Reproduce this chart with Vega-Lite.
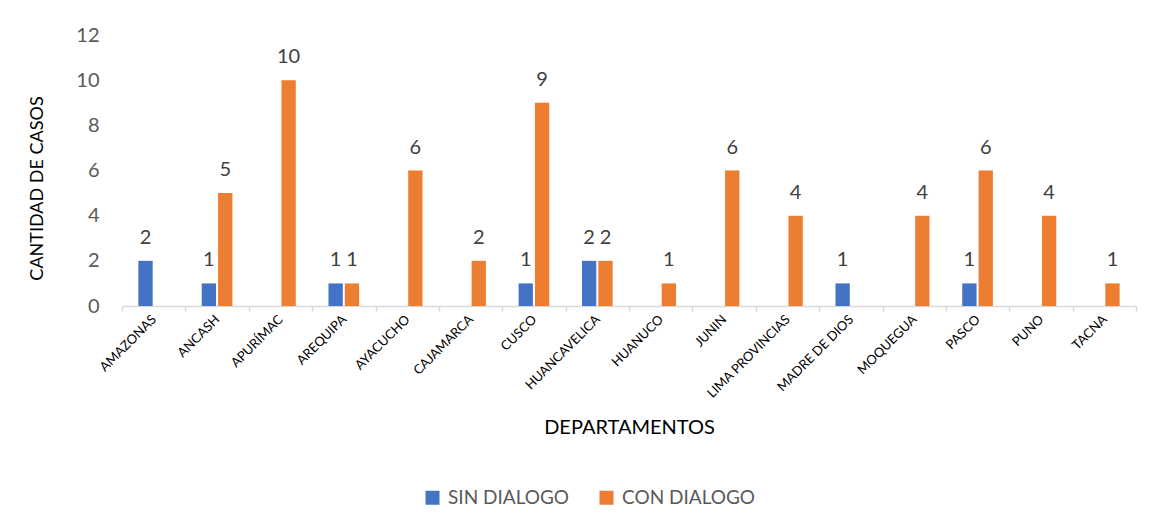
{
  "$schema": "https://vega.github.io/schema/vega-lite/v6.json",
  "width": 1014,
  "height": 271,
  "autosize": {"type": "none"},
  "padding": {"left": 122, "top": 35, "right": 32, "bottom": 223},
  "background": "white",
  "config": {"view": {"stroke": null}, "font": "Lato"},
  "data": {
    "values": [
      {"departamento": "AMAZONAS", "serie": "SIN DIALOGO", "casos": 2},
      {"departamento": "ANCASH", "serie": "SIN DIALOGO", "casos": 1},
      {"departamento": "ANCASH", "serie": "CON DIALOGO", "casos": 5},
      {"departamento": "APURÍMAC", "serie": "CON DIALOGO", "casos": 10},
      {"departamento": "AREQUIPA", "serie": "SIN DIALOGO", "casos": 1},
      {"departamento": "AREQUIPA", "serie": "CON DIALOGO", "casos": 1},
      {"departamento": "AYACUCHO", "serie": "CON DIALOGO", "casos": 6},
      {"departamento": "CAJAMARCA", "serie": "CON DIALOGO", "casos": 2},
      {"departamento": "CUSCO", "serie": "SIN DIALOGO", "casos": 1},
      {"departamento": "CUSCO", "serie": "CON DIALOGO", "casos": 9},
      {"departamento": "HUANCAVELICA", "serie": "SIN DIALOGO", "casos": 2},
      {"departamento": "HUANCAVELICA", "serie": "CON DIALOGO", "casos": 2},
      {"departamento": "HUANUCO", "serie": "CON DIALOGO", "casos": 1},
      {"departamento": "JUNIN", "serie": "CON DIALOGO", "casos": 6},
      {"departamento": "LIMA PROVINCIAS", "serie": "CON DIALOGO", "casos": 4},
      {"departamento": "MADRE DE DIOS", "serie": "SIN DIALOGO", "casos": 1},
      {"departamento": "MOQUEGUA", "serie": "CON DIALOGO", "casos": 4},
      {"departamento": "PASCO", "serie": "SIN DIALOGO", "casos": 1},
      {"departamento": "PASCO", "serie": "CON DIALOGO", "casos": 6},
      {"departamento": "PUNO", "serie": "CON DIALOGO", "casos": 4},
      {"departamento": "TACNA", "serie": "CON DIALOGO", "casos": 1}
    ]
  },
  "encoding": {
    "x": {
      "field": "departamento",
      "type": "nominal",
      "sort": ["AMAZONAS", "ANCASH", "APURÍMAC", "AREQUIPA", "AYACUCHO", "CAJAMARCA", "CUSCO", "HUANCAVELICA", "HUANUCO", "JUNIN", "LIMA PROVINCIAS", "MADRE DE DIOS", "MOQUEGUA", "PASCO", "PUNO", "TACNA"],
      "scale": {"paddingInner": 0, "paddingOuter": 0},
      "axis": {
        "title": "DEPARTAMENTOS",
        "titleFont": "Lato",
        "titleFontSize": 20,
        "titleFontWeight": "normal",
        "titleColor": "#000000",
        "titleBaseline": "alphabetic",
        "titleY": 127,
        "labelAngle": -45,
        "labelAlign": "right",
        "labelBaseline": "middle",
        "labelFontSize": 13,
        "labelColor": "#000000",
        "labelPadding": 6,
        "domainColor": "#d9d9d9",
        "domainWidth": 1.5,
        "tickColor": "#d9d9d9",
        "tickWidth": 1.5,
        "tickSize": 5,
        "tickBand": "extent",
        "grid": false
      }
    },
    "xOffset": {
      "field": "serie",
      "type": "nominal",
      "sort": ["SIN DIALOGO", "CON DIALOGO"],
      "scale": {"domain": ["SIN DIALOGO", "CON DIALOGO"], "paddingInner": 0.125, "paddingOuter": 1.04}
    },
    "y": {
      "field": "casos",
      "type": "quantitative",
      "scale": {"domain": [0, 12]},
      "axis": {
        "title": "CANTIDAD DE CASOS",
        "titleFont": "Lato",
        "titleFontSize": 18,
        "titleFontWeight": "normal",
        "titleColor": "#000000",
        "titleBaseline": "alphabetic",
        "titleX": -80,
        "titleY": 153,
        "titleAlign": "center",
        "titleAngle": -90,
        "values": [0, 2, 4, 6, 8, 10, 12],
        "labelFontSize": 20,
        "labelColor": "#595959",
        "labelPadding": 23,
        "ticks": false,
        "tickSize": 0,
        "domain": false,
        "grid": false
      }
    }
  },
  "layer": [
    {
      "mark": {"type": "bar"},
      "encoding": {
        "color": {
          "field": "serie",
          "type": "nominal",
          "scale": {"domain": ["SIN DIALOGO", "CON DIALOGO"], "range": ["#4472C4", "#ED7D31"]},
          "legend": {
            "orient": "none",
            "legendX": 301,
            "legendY": 453,
            "direction": "horizontal",
            "title": null,
            "symbolType": "square",
            "symbolSize": 196,
            "symbolStrokeWidth": 0,
            "labelFontSize": 19,
            "labelFont": "Lato",
            "labelColor": "#595959",
            "labelOffset": 6,
            "columnPadding": 27
          }
        }
      }
    },
    {
      "mark": {"type": "text", "dy": -17, "baseline": "alphabetic", "fontSize": 20, "color": "#404040"},
      "encoding": {"text": {"field": "casos", "type": "quantitative"}}
    }
  ]
}
